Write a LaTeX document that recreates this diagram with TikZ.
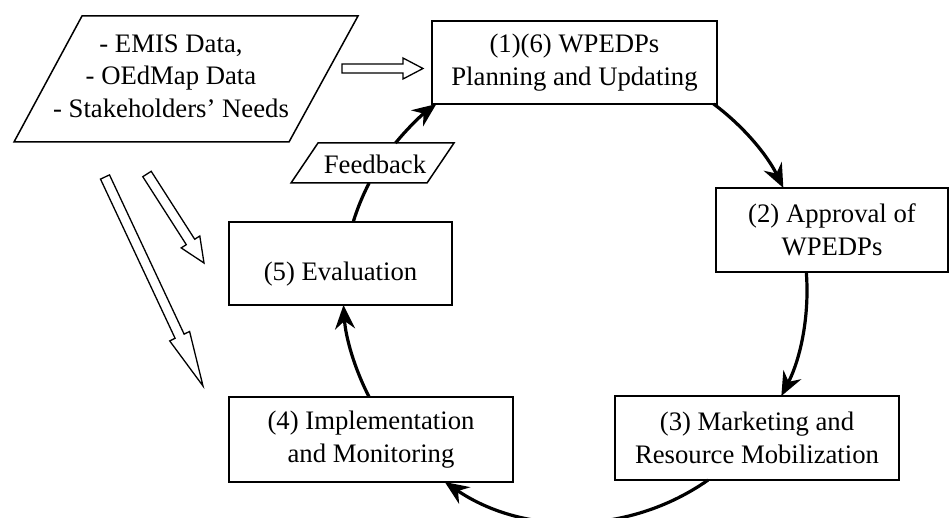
\documentclass[tikz,border=0pt]{standalone}
\usepackage{fontspec}
\setmainfont{Liberation Serif}
\usetikzlibrary{arrows.meta}
\begin{document}
\begin{tikzpicture}[x=1pt,y=-1pt,
  txt/.style={align=center, inner sep=0pt, font=\fontsize{26.7}{32.5}\selectfont},
  box/.style={txt, draw, line width=1.8pt},
  slantbox/.style={draw, line width=1.5pt, line join=miter},
  hollow/.style={draw, line width=1.3pt, fill=white, line join=miter},
  cycline/.style={line width=3.2pt},
  cycarrow/.style={cycline, -{Stealth[length=24pt,width=20pt,inset=8pt]}}]
\useasboundingbox (0,0) rectangle (949,518);

% process boxes
\node[box, minimum width=285, minimum height=83] (b1) at (574.5,62.5) {(1)(6) WPEDPs\\Planning and Updating};
\node[box, minimum width=232, minimum height=84] (b2) at (832,230) {(2) Approval of\\WPEDPs};
\node[box, minimum width=284, minimum height=84] (b3) at (757,438) {(3) Marketing and\\Resource Mobilization};
\node[box, minimum width=284, minimum height=85] (b4) at (371,439.5) {(4) Implementation\\and Monitoring};
\node[box, minimum width=223, minimum height=83] (b5) at (340.5,263.5) {\raisebox{-11pt}[\height][\depth]{(5) Evaluation}};

% input data (parallelogram)
\draw[slantbox] (82,16) -- (358,16) -- (289,142) -- (14,142) -- cycle;
\node[txt] (inp) at (171,76) {- EMIS Data,\\- OEdMap Data\\- Stakeholders' Needs};

% feedback (parallelogram)
\draw[slantbox] (318,143) -- (454,143) -- (427,183) -- (291,183) -- cycle;
\node[txt] (fb) at (375,164) {Feedback};

% hollow input arrows
\draw[hollow] (342,64) -- (403,64) -- (403,58) -- (423,68.5) -- (403,79) -- (403,73) -- (342,73) -- cycle;
\draw[hollow] (142.8,176.7) -- (186.3,244.65) -- (181.2,247.9) -- (204,263) -- (199.8,236.0) -- (194.7,239.25) -- (151.2,171.3) -- cycle;
\draw[hollow] (100.5,179.1) -- (175.1,338.3) -- (169.7,340.9) -- (203,386) -- (189.6,331.5) -- (184.1,334.1) -- (109.5,174.9) -- cycle;

% the planning cycle, drawn on one circle
\coordinate (cyc) at (575,290);
\draw[cycarrow] ([shift={(-53.3:232)}]cyc) arc[start angle=-53.3, end angle=-26.1, radius=232];
\draw[cycarrow] ([shift={(-4.45:232)}]cyc) arc[start angle=-4.45, end angle=27.2, radius=232];
\draw[cycarrow] ([shift={(55.0:232)}]cyc) arc[start angle=55.0, end angle=124.15, radius=232];
\draw[cycarrow] ([shift={(152.54:232)}]cyc) arc[start angle=152.54, end angle=176.3, radius=232];
\draw[cycline] ([shift={(197.04:232)}]cyc) arc[start angle=197.04, end angle=207.46, radius=232];
\draw[cycarrow] ([shift={(219.3:232)}]cyc) arc[start angle=219.3, end angle=233.3, radius=232];
\end{tikzpicture}
\end{document}
